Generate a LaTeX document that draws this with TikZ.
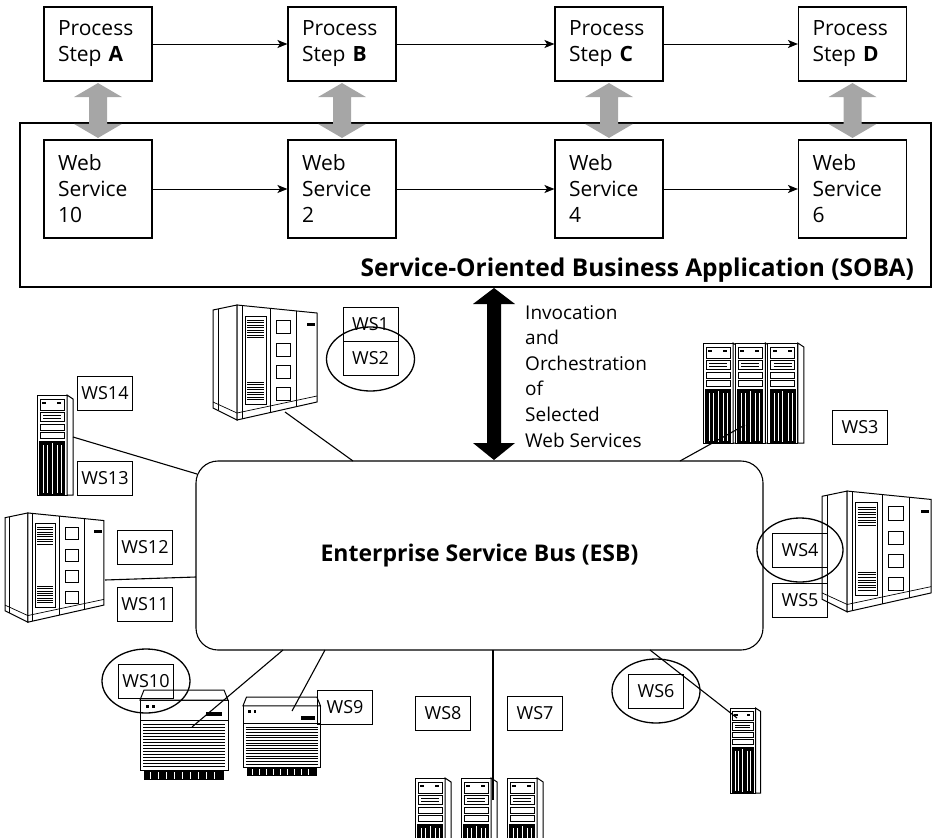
\documentclass[tikz,border=0pt]{standalone}
\usepackage{fontspec}
\setmainfont{Open Sans}
\usetikzlibrary{arrows.meta,calc,shapes.geometric}

\tikzset{
  line/.style={line width=1.1pt},
  flow/.style={line width=1pt, -{Stealth[length=10pt,width=8pt,inset=2.5pt]}},
  stepbox/.style={draw, line width=1.1pt, minimum width=108pt, minimum height=74pt,
    text width=80pt, inner xsep=14pt, align=left, font=\fontsize{21}{26}\selectfont},
  wsbox/.style={stepbox, minimum height=98pt},
  tag/.style={draw, line width=1pt, minimum width=55pt, minimum height=34pt, inner sep=0pt,
    font=\fontsize{18}{20}\selectfont},
  ring/.style={draw, line width=1.3pt},
  grayarrow/.style={fill=black!35, draw=none},
  part/.style={line width=0.7pt},
  % cabinet style computer in perspective
  mainframe/.pic={
    \draw[line width=1pt, fill=white] (0,6)--(24,1)--(24,116)--(0,104)--cycle;
    \draw[line width=1pt, fill=white] (24,1)--(104,9)--(104,98)--(24,116)--cycle;
    \draw[part] (5,5)--(5,106);
    \draw[part] (0,98)--(24,109)--(104,92);
    \draw[part] (29,1.5)--(29,115);
    \draw[part] (57,4.3)--(57,108.6);
    \draw[part] (83,6.9)--(83,102.7);
    \draw[part] (32,12) rectangle (53,100);
    \foreach \yy in {16,18.5,...,35} \draw[line width=0.5pt] (34,\yy)--(51,\yy);
    \foreach \yy in {78,80.5,...,97} \draw[line width=0.5pt] (34,\yy)--(51,\yy);
    \foreach \yy in {16,39,61,83} \draw[part] (63,\yy) rectangle (77,\yy+13);
    \fill (94,19) rectangle (102,22);
  },
  % single tower computer
  tower/.pic={
    \draw[line width=1pt, fill=white] (0,0) rectangle (30,100);
    \draw[line width=1pt, fill=white] (30,0)--(36,4)--(36,100)--(30,100)--cycle;
    \draw[part] (3,4) rectangle (27,15);
    \fill (5,7) rectangle (9,9);
    \fill (20,7) rectangle (24,9);
    \draw[part] (3,17) rectangle (27,26);
    \draw[line width=0.5pt] (6,20)--(24,20) (6,23)--(24,23);
    \draw[part] (3,29) rectangle (27,35);
    \draw[part] (3,37) rectangle (27,43);
    \fill (2,46) rectangle (28,100);
    \draw[white, line width=0.8pt] (15,48)--(15,99);
    \foreach \xx in {6,10,20,24} \draw[white, line width=0.5pt] (\xx,50)--(\xx,98);
  },
  % three towers side by side
  towers/.pic={
    \foreach \ii in {0,1,2} \pic at (\ii*36,0) {tower};
  },
  % low cabinet unit
  lowunit/.pic={
    \draw[line width=1pt, fill=white] (0,10) rectangle (88,80);
    \draw[line width=1pt, fill=white] (4,0)--(84,0)--(88,10)--(0,10)--cycle;
    \fill (6,15) rectangle (9,18);
    \fill (12,15) rectangle (15,18);
    \fill (66,22) rectangle (82,26);
    \draw[part] (0,30)--(88,30);
    \foreach \yy in {34,37,...,76} \draw[line width=0.5pt] (3,\yy)--(85,\yy);
    \fill (4,80) rectangle (84,90);
    \foreach \xx in {10,18,...,80} \draw[white, line width=0.5pt] (\xx,82)--(\xx,89);
  }
}

\begin{document}
\begin{tikzpicture}[x=1pt,y=-1pt]
\useasboundingbox (0,0) rectangle (932,838);

% --- process steps ---
\node[stepbox] (pA) at (98,44) {Process\\Step \textbf{A}};
\node[stepbox] (pB) at (342,44) {Process\\Step \textbf{B}};
\node[stepbox] (pC) at (609,44) {Process\\Step \textbf{C}};
\node[stepbox] (pD) at (852.5,44) {Process\\Step \textbf{D}};

% --- SOBA frame ---
\node[draw, line width=1.1pt, minimum width=911pt, minimum height=164pt, inner sep=0pt] (soba) at (475.5,205) {};
\node[anchor=base east, font=\bfseries\fontsize{24.5}{26}\selectfont, inner sep=0pt] (sobaLabel) at (914,276)
  {Service-Oriented Business Application (SOBA)};

% --- web services ---
\node[wsbox] (w10) at (98,189) {Web\\Service\\10};
\node[wsbox] (w2) at (342,189) {Web\\Service\\2};
\node[wsbox] (w4) at (609,189) {Web\\Service\\4};
\node[wsbox] (w6) at (852.5,189) {Web\\Service\\6};

\draw[flow] (pA) -- (pB);
\draw[flow] (pB) -- (pC);
\draw[flow] (pC) -- (pD);
\draw[flow] (w10) -- (w2);
\draw[flow] (w2) -- (w4);
\draw[flow] (w4) -- (w6);

% --- gray two-way block arrows between steps and services ---
\foreach \p/\w in {pA/w10, pB/w2, pC/w4, pD/w6}{
  \path (\p.south) ++(0,1.5) coordinate (top);
  \path (\w.north) ++(0,-1.5) coordinate (bot);
  \fill[grayarrow] (top) -- ++(24,14) -- ++(-15,0) |- ($(bot)+(9,-14)$) -- ++(15,0)
    -- (bot) -- ++(-24,-14) -- ++(15,0) |- ($(top)+(-9,14)$) -- ++(-15,0) -- cycle;
}

% --- enterprise service bus ---
\node[draw, line width=1.1pt, rounded corners=22pt, minimum width=567pt, minimum height=189pt,
  font=\bfseries\fontsize{23}{26}\selectfont] (esb) at (479.5,555.5) {Enterprise Service Bus (ESB)};

% --- invocation arrow ---
\coordinate (invTop) at (494,288);
\coordinate (invBot) at (494,460);
\fill (invTop) -- ++(21,16) -- ++(-14,0) -- ++(0,139) -- ++(14,0) -- (invBot)
  -- ++(-21,-17) -- ++(14,0) -- ++(0,-139) -- ++(-14,0) -- cycle;
\node[anchor=north west, align=left, inner sep=0pt, font=\fontsize{19}{25.6}\selectfont] (inv) at (525,305)
  {Invocation\\and\\Orchestration\\of\\Selected\\Web Services};

% --- computers ---
\pic at (213,304) {mainframe};
\pic at (37,395) {tower};
\pic[scale=0.9] at (703,343) {towers};
\pic[scale=0.95] at (5,512) {mainframe};
\begin{scope}
  \clip (700,0) rectangle (932,838);
  \pic[scale=1.05] at (822,490) {mainframe};
\end{scope}
\pic at (140,690) {lowunit};
\pic[scale=0.88] at (243,697) {lowunit};
\pic[scale=1.28] at (415,778) {towers};
\pic[scale=0.85] at (730,708) {tower};

% --- connection lines to the bus ---
\coordinate (cMF) at (285,412);
\coordinate (eMF) at (353,461);
\coordinate (cLT) at (73,437);
\coordinate (eLT) at (197,474);
\coordinate (cLM) at (105,580);
\coordinate (eLM) at (196,577);
\coordinate (cU1) at (192,727);
\coordinate (eU1) at (283,650);
\coordinate (cU2) at (292,711);
\coordinate (eU2) at (325,650);
\coordinate (cBT) at (493,800);
\coordinate (eBT) at (493,650);
\coordinate (cRT) at (737,718);
\coordinate (eRT) at (650,650);
\coordinate (cTT) at (745,425);
\coordinate (eTT) at (680,461);
\foreach \a/\b in {cMF/eMF, cLT/eLT, cLM/eLM, cU1/eU1, cU2/eU2, cBT/eBT, cRT/eRT, cTT/eTT}
  \draw[line] (\a) -- (\b);

% --- web service tags ---
\node[tag] (ws1) at (370.5,324) {WS1};
\node[tag] (ws2) at (370.5,358) {WS2};
\node[ring, ellipse, minimum width=88pt, minimum height=64pt] (r2) at (370.5,359) {};
\node[tag] (ws14) at (105,393) {WS14};
\node[tag] (ws13) at (105,478) {WS13};
\node[tag] (ws3) at (860,427) {WS3};
\node[tag] (ws12) at (145,547) {WS12};
\node[tag] (ws11) at (145,604) {WS11};
\node[tag] (ws4) at (800,550) {WS4};
\node[ring, ellipse, minimum width=86pt, minimum height=64pt] (r4) at (800,550) {};
\node[tag] (ws5) at (800,600) {WS5};
\node[tag] (ws10) at (146,681) {WS10};
\node[ring, ellipse, minimum width=88pt, minimum height=64pt] (r10) at (146,681) {};
\node[tag] (ws9) at (345,707) {WS9};
\node[tag] (ws8) at (443,713) {WS8};
\node[tag] (ws7) at (535,713) {WS7};
\node[tag] (ws6) at (656,691) {WS6};
\node[ring, ellipse, minimum width=88pt, minimum height=64pt] (r6) at (656,691) {};
\end{tikzpicture}
\end{document}
